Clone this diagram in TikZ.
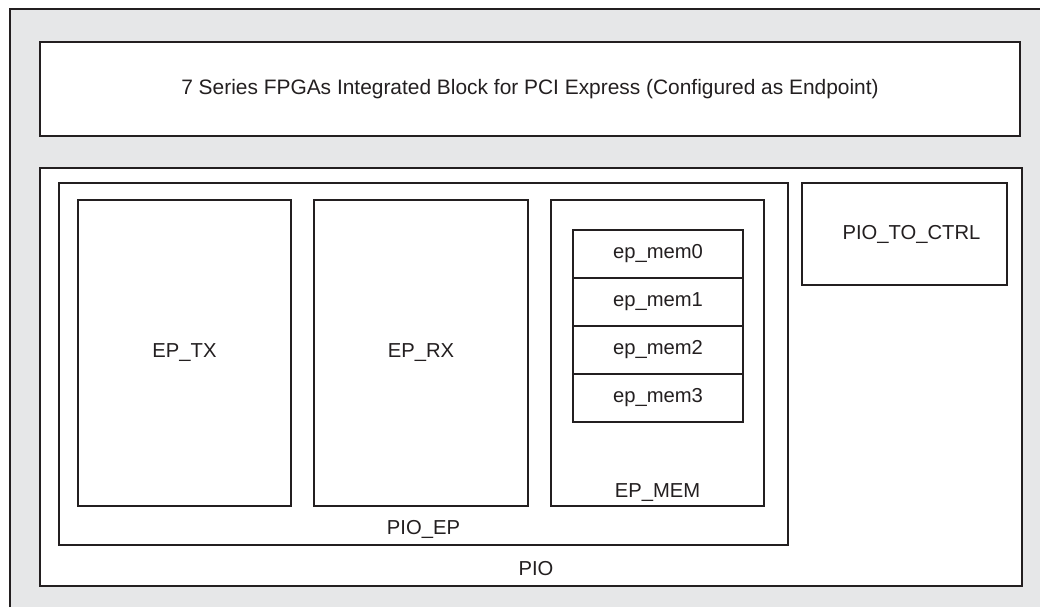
\documentclass[tikz,border=0pt]{standalone}
\usepackage{fontspec}
\setmainfont{Liberation Sans}
\usetikzlibrary{positioning}
\definecolor{linec}{HTML}{231F20}
\definecolor{bggray}{HTML}{E6E7E8}
\tikzset{
  blk/.style={draw=linec, line width=1.1pt, fill=white, inner sep=0pt, outer sep=0pt,
    font=\fontsize{11.5}{13}\selectfont, text=linec},
  memrow/.style={blk, minimum width=3.4cm, minimum height=0.96cm},
  sub/.style={blk, minimum width=4.27cm, minimum height=6.12cm},
  lbl/.style={font=\fontsize{11.5}{13}\selectfont, text=linec, inner sep=0pt, anchor=base},
}

\begin{document}
\begin{tikzpicture}

  \useasboundingbox (0,0) rectangle (20.8,-12.14);

  % Background
  \fill[bggray] (0.2,-0.18) rectangle (20.8,-12.14);
  \draw[linec, line width=1.1pt] (0.2,-12.14) -- (0.2,-0.18) -- (20.8,-0.18);

  % Integrated block
  \node[blk, minimum width=19.6cm, minimum height=1.88cm, font=\fontsize{11.9}{14}\selectfont]
    (pcie) at (10.6,-1.78)
    {7 Series FPGAs Integrated Block for PCI Express (Configured as Endpoint)};

  % PIO and its parts
  \node[blk, minimum width=19.64cm, minimum height=8.36cm] (pio) at (10.62,-7.54) {};
  \node[lbl] (piolbl) at ([xshift=0.1cm, yshift=0.22cm]pio.south) {PIO};

  \node[blk, minimum width=14.58cm, minimum height=7.24cm] (pioep) at (8.47,-7.28) {};
  \node[lbl] (pioeplbl) at ([yshift=0.22cm]pioep.south) {PIO\_EP};

  \node[sub] (eptx) at (3.69,-7.06) {EP\_TX};
  \node[sub] (eprx) at (8.42,-7.06) {EP\_RX};
  \node[sub] (epmem) at (13.15,-7.06) {};
  \node[lbl] (epmemlbl) at ([yshift=0.18cm]epmem.south) {EP\_MEM};

  \node[memrow] (mem0) at (13.16,-5.08) {ep\_mem0};
  \node[memrow, below=0pt of mem0] (mem1) {ep\_mem1};
  \node[memrow, below=0pt of mem1] (mem2) {ep\_mem2};
  \node[memrow, below=0pt of mem2] (mem3) {ep\_mem3};

  \node[blk, minimum width=4.1cm, minimum height=2.04cm] (toctrl) at (18.09,-4.68) {};
  \node[lbl, anchor=center] (toctrllbl) at ([xshift=0.14cm]toctrl.center) {PIO\_TO\_CTRL};

\end{tikzpicture}
\end{document}
